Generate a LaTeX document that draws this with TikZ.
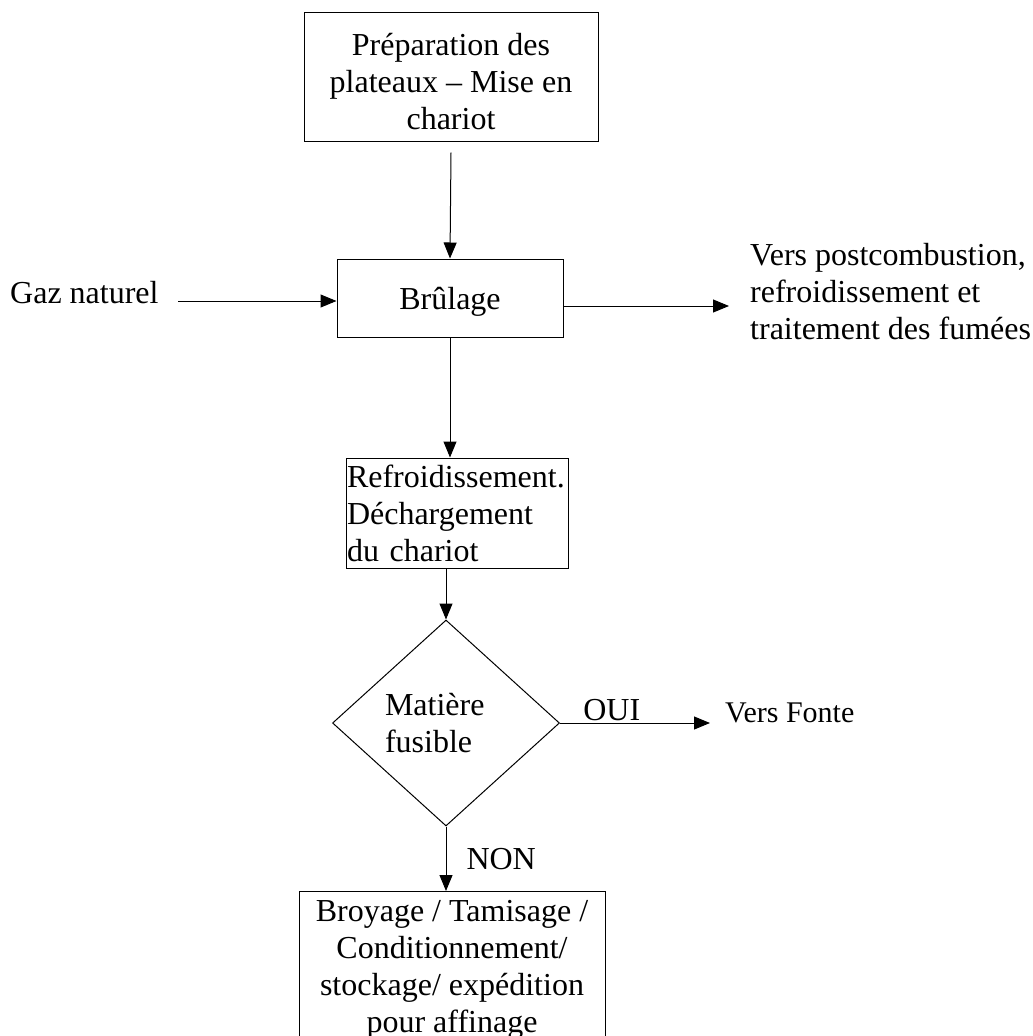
\documentclass[tikz,border=0pt]{standalone}
\usepackage{fontspec}
\setmainfont{Liberation Serif}
\usetikzlibrary{arrows.meta,shapes.geometric}
\begin{document}
\begin{tikzpicture}[x=1pt,y=-1pt,
  every node/.style={font=\fontsize{32}{37}\selectfont, inner sep=0pt},
  boxnode/.style={draw, line width=1pt, rectangle},
  decision/.style={draw, line width=1pt, diamond},
  smalltext/.style={font=\fontsize{30}{36}\selectfont},
  arr/.style={line width=1pt, -{Triangle[length=16pt,width=13pt]}},
]
\useasboundingbox (0,0) rectangle (1033,1036);

\node[boxnode, minimum width=294pt, minimum height=129pt, align=center] (b1) at (451,76.5)
  {\rule{0pt}{33pt}Préparation des\\plateaux – Mise en\\chariot};
\node[boxnode, minimum width=226pt, minimum height=78pt, text depth=0pt] (b2) at (450,298) {Brûlage};
\node[boxnode, minimum width=222pt, minimum height=110pt, text width=220pt, inner xsep=1pt, align=left] (b3) at (457,513)
  {Refroidissement.\\Déchargement\\du chariot};
\node[decision, minimum width=227pt, minimum height=206pt, text width=122pt, align=left] (d) at (446,723)
  {Matière\\fusible};
\node[boxnode, anchor=north, minimum width=306pt, inner ysep=9pt, align=center] (b4) at (452,891)
  {Broyage / Tamisage /\\Conditionnement/\\stockage/ expédition\\pour affinage};

\node[anchor=base west] (gaz) at (10,303) {Gaz naturel};
\node[anchor=north west, align=left] (vp) at (750,243)
  {Vers postcombustion,\\refroidissement et\\traitement des fumées};
\node[anchor=base west, smalltext] (vf) at (725,722) {Vers Fonte};

\coordinate (gs) at (178,301);
\coordinate (ve) at (729,306);

\draw[arr] ([yshift=-11pt]b1.south) -- (b2.north);
\draw[arr] (gs) -- (gs -| b2.west);
\draw[arr] (b2.east |- ve) -- (ve);
\draw[arr] (b2.south) -- (b2.south |- b3.north);
\draw[arr] (d.north |- b3.south) -- (d.north);
\draw[arr] (d.east) -- ([xshift=-15pt]vf.west |- d.east)
  node[pos=0.345, above=2pt] (oui) {OUI};
\draw[arr] (d.south) -- (d.south |- b4.north)
  node[pos=0.5, right=20pt] (non) {NON};
\end{tikzpicture}
\end{document}
